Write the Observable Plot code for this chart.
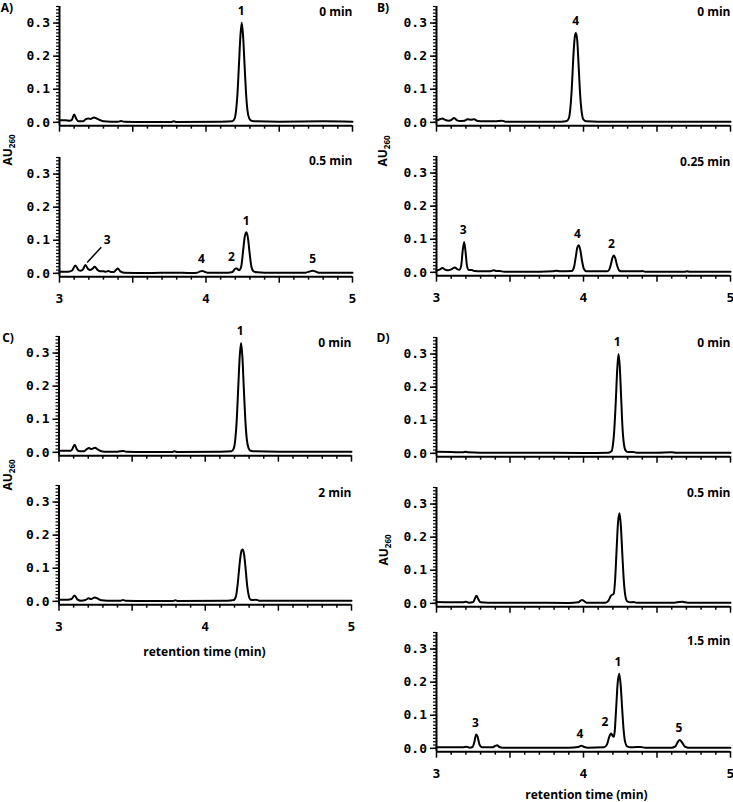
<!DOCTYPE html>
<html><head><meta charset="utf-8">
<script src="https://cdn.jsdelivr.net/npm/d3@7"></script>
<script src="https://cdn.jsdelivr.net/npm/@observablehq/plot@0.6"></script>
<style>
body{margin:0;background:#fff;}
#fig{position:relative;width:733px;height:802px;overflow:hidden;font-family:"Open Sans",sans-serif;color:#000;}
.tag{position:absolute;font-weight:700;font-size:12px;transform:translate(-50%,-50%);white-space:nowrap;line-height:1;}
.au{position:absolute;font-weight:700;font-size:12px;transform:translate(-50%,-50%) rotate(-90deg);white-space:nowrap;line-height:1;}
.au sub{font-size:8px;vertical-align:-3px;}
</style></head><body><div id="fig"></div>
<script>
// ---------- data: chromatograms [retention time (min), AU260] ----------
const traceA0 = [[3.00,0.006],[3.04,0.006],[3.07,0.005],[3.085,0.008],[3.10,0.024],[3.115,0.010],[3.13,0.003],[3.16,0.003],[3.18,0.010],[3.195,0.012],[3.21,0.010],[3.235,0.015],[3.255,0.011],[3.275,0.007],[3.30,0.003],[3.35,0.002],[3.40,0.002],[3.42,0.004],[3.44,0.002],[3.60,0.001],[3.76,0.001],[3.78,0.003],[3.80,0.001],[4.10,0.002],[4.18,0.003],[4.195,0.011],[4.205,0.035],[4.215,0.088],[4.225,0.175],[4.235,0.262],[4.244,0.301],[4.253,0.262],[4.263,0.175],[4.273,0.090],[4.283,0.036],[4.295,0.012],[4.31,0.005],[4.34,0.003],[4.50,0.002],[4.80,0.003],[5.00,0.002]];
const traceA1 = [[3.00,0.005],[3.06,0.005],[3.085,0.008],[3.108,0.024],[3.13,0.010],[3.145,0.008],[3.16,0.012],[3.177,0.025],[3.195,0.013],[3.21,0.010],[3.225,0.014],[3.241,0.020],[3.26,0.010],[3.28,0.006],[3.30,0.006],[3.315,0.005],[3.335,0.007],[3.35,0.004],[3.37,0.004],[3.385,0.010],[3.398,0.015],[3.415,0.006],[3.44,0.002],[3.60,0.001],[3.78,0.002],[3.90,0.001],[3.94,0.002],[3.96,0.006],[3.975,0.007],[3.99,0.005],[4.01,0.002],[4.15,0.002],[4.18,0.004],[4.20,0.014],[4.21,0.015],[4.225,0.009],[4.24,0.020],[4.255,0.075],[4.265,0.112],[4.276,0.124],[4.287,0.105],[4.298,0.060],[4.31,0.020],[4.325,0.006],[4.35,0.003],[4.40,0.002],[4.68,0.002],[4.71,0.006],[4.728,0.008],[4.745,0.006],[4.77,0.002],[5.00,0.002]];
const traceB0 = [[3.00,0.006],[3.015,0.008],[3.04,0.012],[3.06,0.007],[3.085,0.005],[3.10,0.007],[3.12,0.013],[3.14,0.006],[3.16,0.004],[3.19,0.005],[3.21,0.009],[3.235,0.008],[3.255,0.009],[3.28,0.004],[3.32,0.003],[3.40,0.003],[3.445,0.005],[3.47,0.002],[3.60,0.002],[3.85,0.002],[3.885,0.004],[3.90,0.012],[3.91,0.040],[3.92,0.100],[3.93,0.190],[3.94,0.255],[3.948,0.270],[3.957,0.250],[3.967,0.170],[3.977,0.085],[3.988,0.030],[4.00,0.008],[4.02,0.003],[4.10,0.002],[4.50,0.002],[5.00,0.002]];
const traceB1 = [[3.00,0.005],[3.02,0.008],[3.04,0.013],[3.06,0.008],[3.08,0.006],[3.10,0.009],[3.125,0.015],[3.14,0.010],[3.155,0.008],[3.168,0.020],[3.178,0.065],[3.188,0.092],[3.198,0.060],[3.208,0.018],[3.22,0.007],[3.24,0.007],[3.26,0.004],[3.30,0.003],[3.36,0.003],[3.39,0.006],[3.41,0.004],[3.43,0.004],[3.46,0.002],[3.70,0.002],[3.79,0.003],[3.815,0.005],[3.84,0.003],[3.92,0.004],[3.935,0.015],[3.947,0.045],[3.958,0.075],[3.968,0.082],[3.978,0.068],[3.99,0.035],[4.003,0.010],[4.02,0.003],[4.16,0.003],[4.175,0.008],[4.187,0.025],[4.197,0.044],[4.206,0.051],[4.216,0.043],[4.228,0.022],[4.242,0.006],[4.26,0.003],[4.38,0.003],[4.40,0.004],[4.42,0.002],[4.69,0.002],[4.705,0.003],[4.72,0.002],[5.00,0.002]];
const traceC0 = [[3.00,0.005],[3.05,0.005],[3.08,0.005],[3.09,0.009],[3.107,0.023],[3.122,0.009],[3.14,0.003],[3.17,0.003],[3.19,0.010],[3.205,0.013],[3.222,0.010],[3.246,0.014],[3.265,0.009],[3.285,0.004],[3.31,0.002],[3.40,0.002],[3.44,0.004],[3.46,0.002],[3.60,0.001],[3.77,0.001],[3.79,0.003],[3.81,0.001],[4.10,0.002],[4.18,0.003],[4.195,0.012],[4.205,0.038],[4.215,0.095],[4.225,0.190],[4.235,0.285],[4.245,0.330],[4.254,0.288],[4.264,0.190],[4.274,0.098],[4.284,0.040],[4.296,0.013],[4.31,0.005],[4.34,0.003],[4.50,0.002],[4.80,0.002],[5.00,0.002]];
const traceC1 = [[3.00,0.005],[3.06,0.005],[3.085,0.007],[3.107,0.018],[3.125,0.006],[3.15,0.002],[3.18,0.004],[3.203,0.009],[3.22,0.007],[3.244,0.012],[3.265,0.008],[3.29,0.003],[3.33,0.002],[3.42,0.002],[3.438,0.004],[3.455,0.002],[3.60,0.001],[3.78,0.001],[3.796,0.003],[3.81,0.001],[4.15,0.002],[4.195,0.004],[4.21,0.015],[4.22,0.045],[4.23,0.090],[4.24,0.133],[4.249,0.154],[4.257,0.157],[4.266,0.140],[4.276,0.098],[4.286,0.050],[4.297,0.018],[4.31,0.005],[4.33,0.004],[4.345,0.005],[4.37,0.002],[4.60,0.002],[5.00,0.002]];
const traceD0 = [[3.00,0.005],[3.10,0.004],[3.18,0.003],[3.197,0.005],[3.215,0.003],[3.30,0.002],[3.60,0.002],[4.00,0.001],[4.17,0.002],[4.19,0.006],[4.20,0.025],[4.21,0.075],[4.22,0.160],[4.229,0.250],[4.238,0.300],[4.247,0.260],[4.256,0.170],[4.265,0.080],[4.275,0.028],[4.287,0.008],[4.30,0.004],[4.34,0.004],[4.36,0.002],[4.50,0.002],[4.60,0.003],[4.63,0.002],[5.00,0.002]];
const traceD1 = [[3.00,0.004],[3.18,0.003],[3.20,0.005],[3.22,0.002],[3.25,0.004],[3.262,0.015],[3.272,0.023],[3.283,0.014],[3.30,0.003],[3.35,0.002],[3.60,0.002],[3.90,0.001],[3.965,0.003],[3.98,0.008],[3.99,0.010],[4.00,0.008],[4.02,0.002],[4.15,0.002],[4.17,0.008],[4.185,0.022],[4.195,0.026],[4.205,0.028],[4.215,0.070],[4.225,0.160],[4.235,0.245],[4.245,0.272],[4.254,0.235],[4.264,0.150],[4.274,0.070],[4.285,0.022],[4.298,0.006],[4.32,0.003],[4.34,0.004],[4.36,0.002],[4.62,0.002],[4.65,0.004],[4.67,0.005],[4.69,0.003],[4.71,0.002],[5.00,0.002]];
const traceD2 = [[3.00,0.003],[3.18,0.003],[3.204,0.005],[3.225,0.002],[3.245,0.004],[3.258,0.020],[3.27,0.042],[3.28,0.035],[3.292,0.012],[3.31,0.003],[3.38,0.003],[3.398,0.007],[3.413,0.009],[3.428,0.004],[3.45,0.002],[3.90,0.002],[3.965,0.004],[3.985,0.008],[4.005,0.004],[4.03,0.002],[4.14,0.003],[4.16,0.012],[4.175,0.035],[4.188,0.045],[4.198,0.038],[4.205,0.035],[4.212,0.050],[4.222,0.120],[4.232,0.195],[4.243,0.225],[4.253,0.190],[4.263,0.120],[4.273,0.055],[4.284,0.018],[4.297,0.006],[4.32,0.003],[4.36,0.004],[4.39,0.004],[4.42,0.002],[4.60,0.002],[4.625,0.006],[4.64,0.018],[4.655,0.025],[4.67,0.018],[4.69,0.005],[4.71,0.002],[5.00,0.002]];

// peak annotations: label, retention time, peak height
const peaksA0 = [{label:"1", t:4.24, au:0.301}];
const peaksA1 = [{label:"4", t:3.969, au:0.007},{label:"2", t:4.174, au:0.015},{label:"1", t:4.274, au:0.124},{label:"5", t:4.729, au:0.008}];
const leaderA1 = [{label:"3", t:3.326, au:0.099, t1:3.189, au1:0.033, t2:3.285, au2:0.079}];
const peaksB0 = [{label:"4", t:3.946, au:0.270}];
const peaksB1 = [{label:"3", t:3.181, au:0.092},{label:"4", t:3.959, au:0.082},{label:"2", t:4.19, au:0.051}];
const peaksC0 = [{label:"1", t:4.238, au:0.330}];
const peaksC1 = [];
const peaksD0 = [{label:"1", t:4.229, au:0.300}];
const peaksD1 = [];
const peaksD2 = [{label:"3", t:3.265, au:0.042},{label:"4", t:3.975, au:0.008},{label:"2", t:4.145, au:0.045},{label:"1", t:4.234, au:0.225},{label:"5", t:4.649, au:0.025}];

const timesA = ["0 min", "0.5 min"];
const timesB = ["0 min", "0.25 min"];
const timesC = ["0 min", "2 min"];
const timesD = ["0 min", "0.5 min", "1.5 min"];
const panelTags = ["A)", "B)", "C)", "D)"];

// axis ticks
const xDomain = [3, 5];
const yDomain = [-0.01, 0.35];
const xMajorTicks = [3, 3.5, 4, 4.5, 5];
const xMinorTicks = [3.1,3.2,3.3,3.4,3.6,3.7,3.8,3.9,4.1,4.2,4.3,4.4,4.6,4.7,4.8,4.9];
const yMajorTicks = [0, 0.1, 0.2, 0.3];
const yMinorTicks = d3.range(0, 0.355, 0.01);
const yTitle = ["AU", "260"];
const xTitle = "retention time (min)";

// ---------- layout ----------
const PX_PER_AU = 331, MT = 20, MB = 40;
const H = (yDomain[1] - yDomain[0]) * PX_PER_AU;
const fig = document.getElementById("fig");

function chrom(c) {
  const el = Plot.plot({
    width: c.width, height: MT + H + MB,
    marginLeft: c.ml, marginRight: c.mr, marginTop: MT, marginBottom: MB,
    x: {domain: xDomain, axis: null},
    y: {domain: yDomain, axis: null},
    style: {background: "transparent", overflow: "visible", color: "black"},
    marks: [
      Plot.axisY(yMinorTicks, {anchor: "left", tickSize: 3, tickFormat: () => "", label: null, strokeWidth: 1.2}),
      Plot.axisY(yMajorTicks, {anchor: "left", tickSize: 6, tickPadding: 3.5, tickFormat: d => d.toFixed(1), label: null,
        fontFamily: "DejaVu Sans Mono", fontWeight: "bold", fontSize: 13, strokeWidth: 1.5}),
      Plot.axisX(xMinorTicks, {anchor: "bottom", tickSize: 3.5, tickFormat: () => "", label: null, strokeWidth: 1.5}),
      Plot.axisX(xMajorTicks, {anchor: "bottom", tickSize: 6.5, tickPadding: 11, label: null,
        tickFormat: d => (c.xLabels && Number.isInteger(d)) ? String(d) : "",
        fontFamily: "DejaVu Sans Mono", fontWeight: "bold", fontSize: 13, strokeWidth: 1.5}),
      Plot.ruleX([xDomain[0]], {y1: yDomain[0], y2: yDomain[1], strokeWidth: 2}),
      Plot.ruleY([yDomain[0]], {x1: xDomain[0], x2: xDomain[1], strokeWidth: 2}),
      Plot.line(c.trace, {x: d => d[0], y: d => d[1], curve: "monotone-x", stroke: "black", strokeWidth: 2}),
      Plot.text([c.cond], {text: d => d, frameAnchor: "top-right", lineAnchor: "middle", dy: c.condDy,
        fontFamily: "Open Sans", fontWeight: "bold", fontSize: 12}),
      Plot.text(c.peaks, {x: "t", y: "au", text: "label", dy: -11.5, lineAnchor: "middle",
        fontFamily: "Open Sans", fontWeight: "bold", fontSize: 12}),
      ...(c.leader ? [
        Plot.link(c.leader, {x1: "t1", y1: "au1", x2: "t2", y2: "au2", stroke: "black", strokeWidth: 1.5}),
        Plot.text(c.leader, {x: "t", y: "au", text: "label", lineAnchor: "middle",
          fontFamily: "Open Sans", fontWeight: "bold", fontSize: 12})
      ] : [])
    ]
  });
  el.style.position = "absolute";
  el.style.left = c.left + "px";
  el.style.top = (c.y0 - yDomain[1] * PX_PER_AU - MT) + "px";
  fig.appendChild(el);
}

const L = {left: 0, width: 365, ml: 59, mr: 13};
const R = {left: 365, width: 368, ml: 71, mr: 3};
const subplots = [
  {...L, trace: traceA0, cond: timesA[0], peaks: peaksA0, y0: 122.3, xLabels: false, condDy: 5.5},
  {...L, trace: traceA1, cond: timesA[1], peaks: peaksA1, leader: leaderA1, y0: 272.7, xLabels: true, condDy: 3.5},
  {...R, trace: traceB0, cond: timesB[0], peaks: peaksB0, y0: 122.3, xLabels: false, condDy: 5.5},
  {...R, trace: traceB1, cond: timesB[1], peaks: peaksB1, y0: 271.7, xLabels: true, condDy: 5.8},
  {...L, ml: 58.5, mr: 14, trace: traceC0, cond: timesC[0], peaks: peaksC0, y0: 451.7, xLabels: false, condDy: 7},
  {...L, ml: 58.5, mr: 14, trace: traceC1, cond: timesC[1], peaks: peaksC1, y0: 601.3, xLabels: true, condDy: 7.5},
  {...R, trace: traceD0, cond: timesD[0], peaks: peaksD0, y0: 453.3, xLabels: false, condDy: 5.5},
  {...R, trace: traceD1, cond: timesD[1], peaks: peaksD1, y0: 603.3, xLabels: false, condDy: 5.5},
  {...R, trace: traceD2, cond: timesD[2], peaks: peaksD2, y0: 748.3, xLabels: true, condDy: 8.4}
];
subplots.forEach(chrom);

function addDiv(cls, html, x, y) {
  const d = document.createElement("div");
  d.className = cls; d.innerHTML = html;
  d.style.left = x + "px"; d.style.top = y + "px";
  fig.appendChild(d);
}
[[7, 7.5], [383, 7.5], [8, 338], [383, 338]].forEach((p, i) => addDiv("tag", panelTags[i], p[0], p[1]));
const yLab = `${yTitle[0]}<sub>${yTitle[1]}</sub>`;
[[8.5, 150], [384, 151], [8.5, 475], [385, 550]].forEach(p => addDiv("au", yLab, p[0], p[1]));
[[204.5, 651.7], [586.5, 795]].forEach(p => addDiv("tag", xTitle, p[0], p[1]));
</script></body></html>
